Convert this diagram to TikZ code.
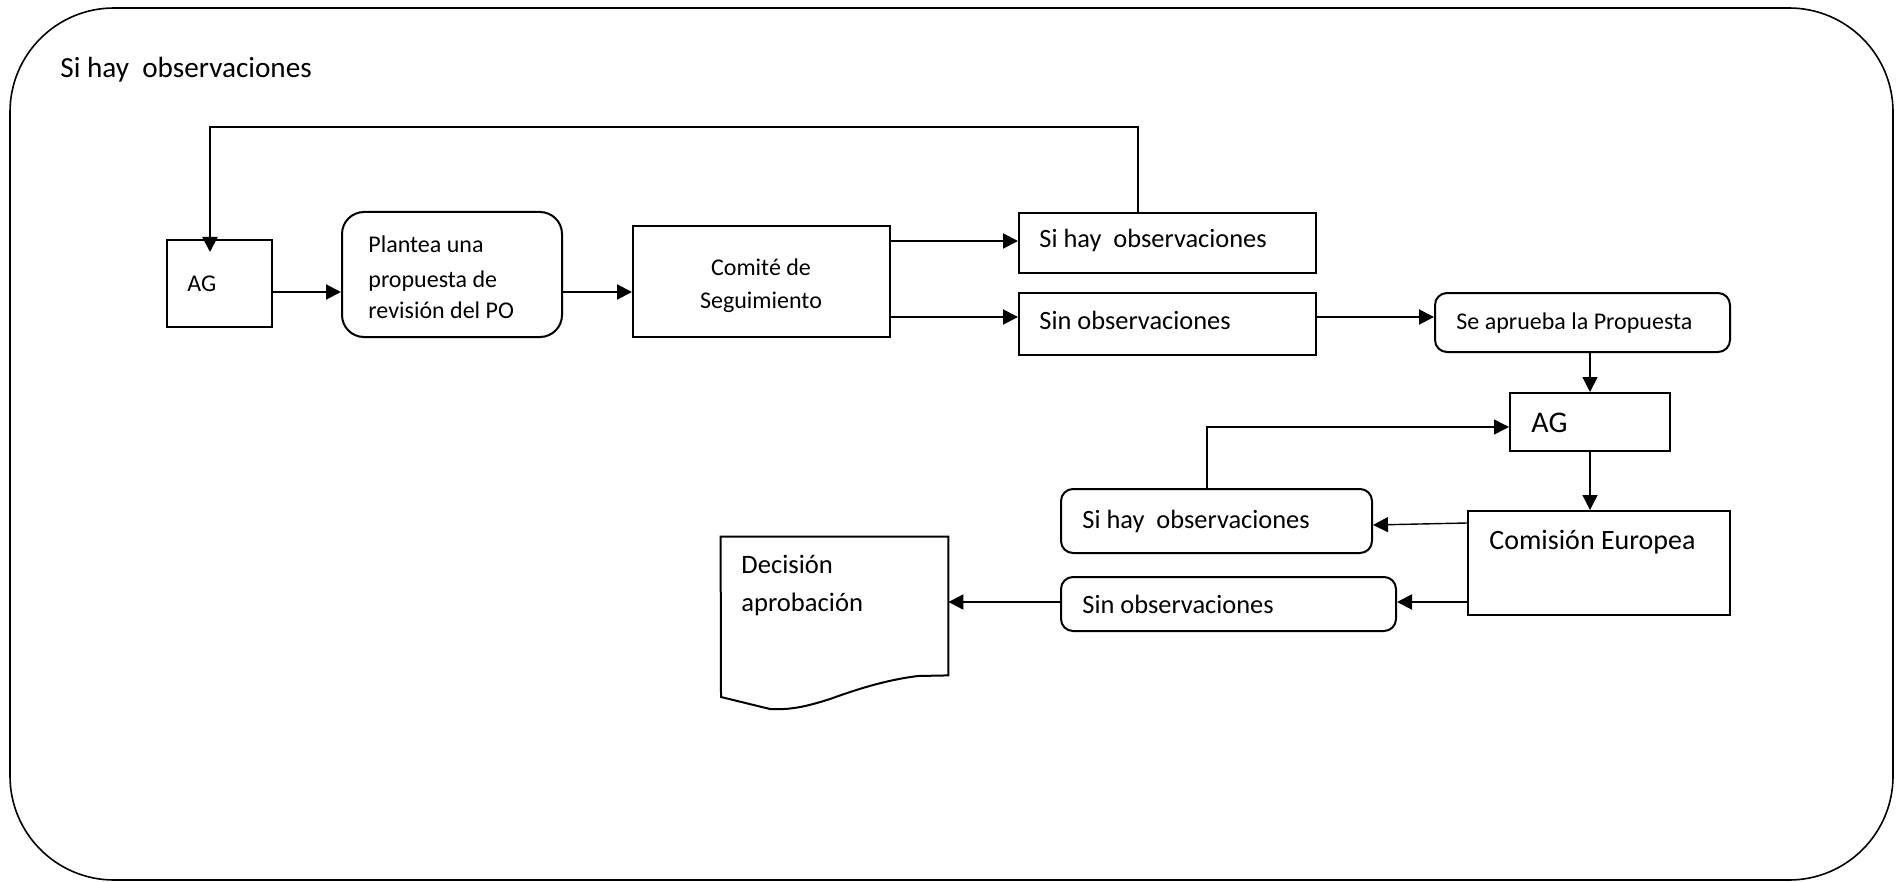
\documentclass[tikz,border=0pt]{standalone}
\usepackage{fontspec}
\setmainfont{Carlito}
\usetikzlibrary{arrows.meta,fit,calc}
\begin{document}
\begin{tikzpicture}[x=0.5pt,y=-0.5pt,
  box/.style={draw,line width=1pt,inner sep=0pt},
  rbox/.style={box,rounded corners=6pt},
  arr/.style={line width=1pt,-{Triangle[length=7.5pt,width=7.5pt]}},
  thinarr/.style={arr,line width=0.7pt},
  txt/.style={inner sep=0pt,anchor=base west},
  ctxt/.style={inner sep=0pt,anchor=base},
  fs/.style={font=\fontsize{#1}{#1}\selectfont}]
\useasboundingbox (0,0) rectangle (1899,882);

% outer frame and its heading
\draw[line width=0.8pt,rounded corners=52pt] (10,8) rectangle (1893,880);
\node[txt,fs=14.6] (title) at (60,78) {Si hay~~observaciones};

% rows used by the connectors
\coordinate (r241) at (0,241);
\coordinate (r292) at (0,292);
\coordinate (r317) at (0,317);
\coordinate (r427) at (0,427);
\coordinate (r523) at (0,523);
\coordinate (r525) at (0,525);
\coordinate (r602) at (0,602);
\coordinate (topR) at (1138,127);
\coordinate (topL) at (210,127);
\coordinate (midL) at (1207,427);

% boxes
\node[box,fit={(167,240) (272,327)}] (ag1) {};
\node[box,rounded corners=11pt,fit={(342,212) (562,337)}] (plan) {};
\node[box,fit={(633,226) (890,337)}] (com) {};
\node[box,fit={(1019,213) (1316,273)}] (si1) {};
\node[box,fit={(1019,293) (1316,355)}] (sin1) {};
\node[rbox,fit={(1435,293) (1730,352)}] (apr) {};
\node[box,fit={(1510,393) (1670,451)}] (ag2) {};
\node[box,fit={(1468,511) (1730,615)}] (ce) {};
\node[rbox,fit={(1061,489) (1372,553)}] (si2) {};
\node[rbox,fit={(1061,577) (1396,631)}] (sin2) {};
\node[inner sep=0pt,fit={(721,537) (948,675)}] (doc) {};
\draw[line width=1pt] (doc.north west) -- (doc.north east) -- (doc.south east)
  -- (918,676) .. controls (885,680) and (855,690) .. (830,699)
  .. controls (805,707) and (790,710) .. (770,709) -- (721,697) -- cycle;

% texts
\node[txt,fs=12] (t-ag1) at (187,292) {AG};
\node[txt,fs=12] (t-plan1) at (368,253) {Plantea una};
\node[txt,fs=12] (t-plan2) at (368,287) {propuesta de};
\node[txt,fs=12] (t-plan3) at (368,318) {revisión del PO};
\node[ctxt,fs=12] (t-com1) at (761,275) {Comité de};
\node[ctxt,fs=12] (t-com2) at (761,308) {Seguimiento};
\node[txt,fs=13.2] (t-si1) at (1039,248) {Si hay~~observaciones};
\node[txt,fs=13.2] (t-sin1) at (1039,329) {Sin observaciones};
\node[txt,fs=12] (t-apr) at (1456,329) {Se aprueba la Propuesta};
\node[txt,fs=15] (t-ag2) at (1531,432) {AG};
\node[txt,fs=14] (t-ce) at (1489,549) {Comisión Europea};
\node[txt,fs=13.2] (t-si2) at (1082,528) {Si hay~~observaciones};
\node[txt,fs=13.2] (t-sin2) at (1082,613) {Sin observaciones};
\node[txt,fs=13.3] (t-doc1) at (741,573) {Decisión};
\node[txt,fs=13.3] (t-doc2) at (741,611) {aprobación};

% connectors
\draw[arr] (ag1.east |- r292) -- (plan.west |- r292);
\draw[arr] (plan.east |- r292) -- (com.west |- r292);
\draw[arr] (com.east |- r241) -- (si1.west |- r241);
\draw[arr] (com.east |- r317) -- (sin1.west |- r317);
\draw[arr] (si1.north -| topR) -- (topR) -- (topL) -- ([yshift=-6.5pt]ag1.north -| topL);
\draw[arr] (sin1.east |- r317) -- (apr.west |- r317);
\draw[thinarr] (apr.south -| ag2.north) -- (ag2.north);
\draw[thinarr] (ag2.south) -- (ce.north -| ag2.south);
\draw[thinarr] (ce.west |- r523) -- (si2.east |- r525);
\draw[thinarr] (si2.north -| midL) -- (midL) -- (ag2.west |- r427);
\draw[arr] (ce.west |- r602) -- (sin2.east |- r602);
\draw[arr] (sin2.west |- r602) -- (doc.east |- r602);
\end{tikzpicture}
\end{document}
